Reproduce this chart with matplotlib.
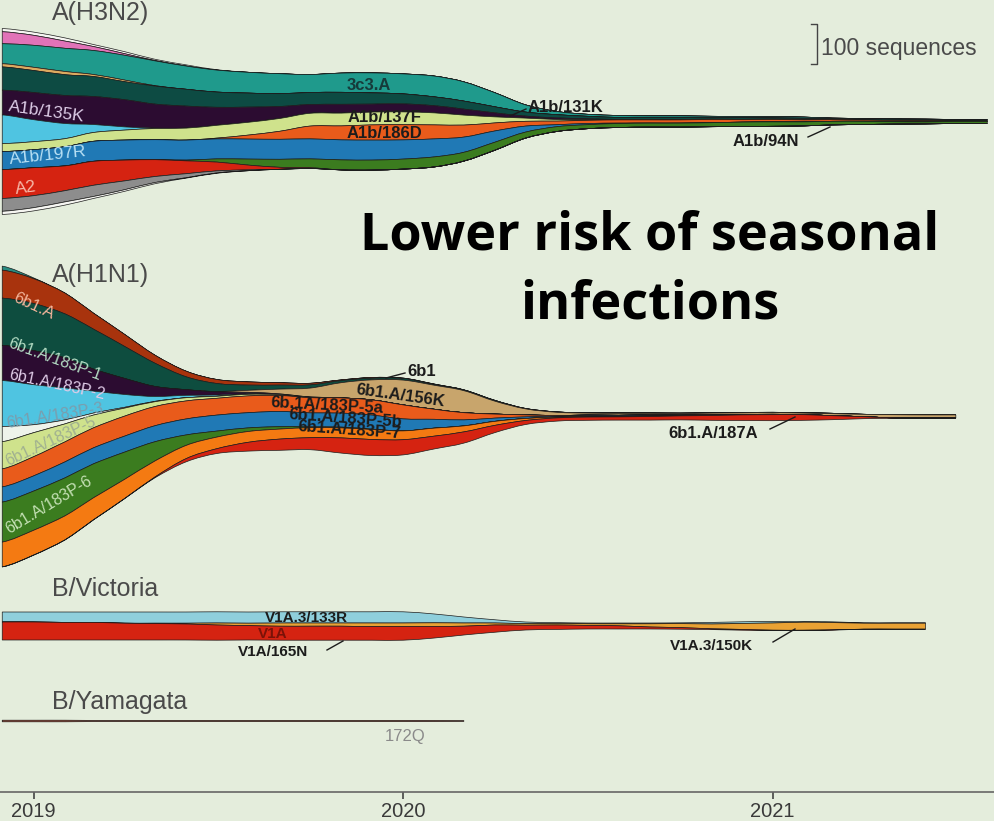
import numpy as np
import pandas as pd
import matplotlib
matplotlib.use("Agg")
import matplotlib.pyplot as plt
from matplotlib.path import Path
from matplotlib.patches import PathPatch

# sequences per clade, one value per month
h3_months = pd.date_range("2018-12-01", periods=33, freq="MS")
h3_other_top = [8, 8, 8, 5, 5, 3, 3, 1, 0, 0, 0, 0, 0, 0, 0, 0, 0, 0, 0, 0, 0, 0, 0, 0, 0, 0, 0, 0, 0, 0, 0, 0, 0]
h3_3c2 = [30, 25, 18, 10, 4, 1, 0, 0, 0, 0, 0, 0, 0, 0, 0, 0, 0, 0, 0, 0, 0, 0, 0, 0, 0, 0, 0, 0, 0, 0, 0, 0, 0]
h3_3c3a = [50, 55, 58, 60, 62, 62, 58, 55, 52, 50, 45, 48, 50, 50, 52, 48, 35, 18, 8, 5, 5, 4, 4, 3, 3, 3, 3, 1, 1, 1, 1, 1, 1]
h3_a1 = [8, 8, 8, 5, 4, 1, 0, 0, 0, 0, 0, 0, 0, 0, 0, 0, 0, 0, 0, 0, 0, 0, 0, 0, 0, 0, 0, 0, 0, 0, 0, 0, 0]
h3_131k = [58, 55, 52, 50, 45, 45, 42, 38, 35, 32, 30, 30, 28, 25, 22, 20, 15, 10, 8, 6, 5, 5, 5, 4, 4, 3, 3, 3, 3, 3, 3, 3, 3]
h3_135k = [62, 68, 70, 70, 68, 60, 55, 45, 38, 30, 22, 22, 20, 20, 18, 15, 10, 5, 4, 3, 1, 1, 1, 1, 1, 1, 1, 0, 0, 0, 0, 0, 0]
h3_135n = [72, 55, 38, 20, 8, 1, 0, 0, 0, 0, 0, 0, 0, 0, 0, 0, 0, 0, 0, 0, 0, 0, 0, 0, 0, 0, 0, 0, 0, 0, 0, 0, 0]
h3_137f = [20, 20, 20, 22, 25, 28, 30, 32, 32, 32, 32, 32, 32, 32, 30, 25, 15, 8, 4, 1, 0, 0, 0, 0, 0, 0, 0, 0, 0, 0, 0, 0, 0]
h3_186d = [0, 0, 0, 0, 0, 0, 0, 2, 10, 20, 32, 35, 38, 38, 35, 30, 20, 12, 9, 8, 8, 8, 8, 8, 6, 6, 5, 4, 3, 3, 3, 1, 1]
h3_197r = [45, 45, 48, 50, 50, 50, 50, 50, 50, 50, 50, 50, 50, 48, 45, 38, 28, 15, 5, 3, 1, 0, 0, 0, 0, 0, 0, 0, 0, 0, 0, 0, 0]
h3_94n = [0, 0, 0, 0, 0, 0, 2, 8, 15, 20, 22, 25, 25, 25, 25, 22, 20, 15, 12, 10, 10, 10, 10, 10, 11, 11, 10, 9, 8, 6, 5, 5, 5]
h3_a2 = [72, 70, 62, 60, 52, 42, 32, 22, 12, 5, 2, 0, 0, 0, 0, 0, 0, 0, 0, 0, 0, 0, 0, 0, 0, 0, 0, 0, 0, 0, 0, 0, 0]
h3_a3 = [32, 30, 28, 28, 22, 15, 10, 5, 2, 0, 0, 0, 0, 0, 0, 0, 0, 0, 0, 0, 0, 0, 0, 0, 0, 0, 0, 0, 0, 0, 0, 0, 0]
h3_other_bottom = [8, 8, 8, 5, 4, 3, 1, 1, 0, 0, 0, 0, 0, 0, 0, 0, 0, 0, 0, 0, 0, 0, 0, 0, 0, 0, 0, 0, 0, 0, 0, 0, 0]
h3_colors = ["#f6f6f2", "#e173b8", "#1f9a8c", "#dcaa60", "#0d4b43", "#2c0c31", "#4fc4e1",
             "#cfe28c", "#e95b1b", "#2079b5", "#3b7c1f", "#d52311", "#8d8d8d", "#f6f6f2"]

h1_months = pd.date_range("2018-12-01", periods=32, freq="MS")
h1_teal = [10, 2, 0, 0, 0, 0, 0, 0, 0, 0, 0, 0, 0, 0, 0, 0, 0, 0, 0, 0, 0, 0, 0, 0, 0, 0, 0, 0, 0, 0, 0, 0]
h1_6b1a = [70, 62, 52, 40, 30, 20, 14, 10, 8, 6, 4, 2, 2, 1, 1, 0, 0, 0, 0, 0, 0, 0, 0, 0, 0, 0, 0, 0, 0, 0, 0, 0]
h1_183p1 = [118, 118, 110, 100, 80, 58, 32, 20, 13, 10, 8, 5, 4, 4, 2, 2, 2, 1, 1, 1, 1, 1, 1, 1, 1, 1, 1, 1, 0, 0, 0, 0]
h1_156k = [0, 0, 0, 0, 0, 0, 0, 1, 5, 12, 22, 38, 50, 62, 60, 55, 32, 15, 8, 5, 5, 4, 4, 4, 4, 4, 4, 5, 6, 8, 8, 8]
h1_183p2 = [88, 85, 75, 55, 40, 25, 14, 8, 4, 2, 1, 0, 0, 0, 0, 0, 0, 0, 0, 0, 0, 0, 0, 0, 0, 0, 0, 0, 0, 0, 0, 0]
h1_183p3 = [115, 100, 80, 55, 32, 12, 6, 3, 1, 0, 0, 0, 0, 0, 0, 0, 0, 0, 0, 0, 0, 0, 0, 0, 0, 0, 0, 0, 0, 0, 0, 0]
h1_183p4 = [38, 20, 10, 5, 2, 1, 0, 0, 0, 0, 0, 0, 0, 0, 0, 0, 0, 0, 0, 0, 0, 0, 0, 0, 0, 0, 0, 0, 0, 0, 0, 0]
h1_183p5 = [68, 60, 45, 32, 20, 12, 8, 5, 4, 2, 1, 0, 0, 0, 0, 0, 0, 0, 0, 0, 0, 0, 0, 0, 0, 0, 0, 0, 0, 0, 0, 0]
h1_183p5a = [45, 48, 50, 50, 50, 48, 45, 42, 42, 40, 38, 38, 38, 35, 25, 18, 10, 5, 2, 2, 1, 1, 1, 1, 1, 1, 0, 0, 0, 0, 0, 0]
h1_183p5b = [38, 38, 40, 40, 40, 40, 40, 40, 38, 38, 35, 35, 35, 30, 22, 15, 8, 4, 2, 2, 2, 2, 1, 1, 0, 0, 0, 0, 0, 0, 0, 0]
h1_183p6 = [100, 98, 95, 85, 68, 48, 26, 15, 9, 6, 2, 2, 1, 0, 0, 0, 0, 0, 0, 0, 0, 0, 0, 0, 0, 0, 0, 0, 0, 0, 0, 0]
h1_183p7 = [62, 62, 60, 55, 48, 40, 33, 29, 27, 25, 25, 25, 25, 22, 20, 15, 10, 5, 2, 1, 1, 1, 0, 0, 0, 0, 0, 0, 0, 0, 0, 0]
h1_187a = [0, 0, 0, 0, 0, 2, 8, 12, 22, 28, 30, 38, 40, 38, 32, 28, 18, 10, 8, 8, 8, 9, 10, 12, 14, 15, 14, 10, 5, 1, 0, 0]
h1_colors = ["#2a8c80", "#a8330d", "#0e4d3f", "#c8a56c", "#2c0c31", "#4fc4e1", "#eef3ea",
             "#cfe28c", "#e95b1b", "#2079b5", "#3b7c1f", "#f47a12", "#d52311"]

vic_months = pd.date_range("2018-12-01", periods=31, freq="MS")
vic_133r = [25, 25, 26, 26, 28, 28, 28, 28, 28, 28, 28, 28, 28, 28, 22, 15, 8, 4, 2, 2, 2, 2, 2, 4, 4, 4, 2, 2, 1, 1, 1]
vic_150k = [0, 0, 0, 0, 0, 1, 2, 5, 6, 8, 8, 8, 9, 9, 9, 8, 5, 4, 4, 4, 5, 8, 10, 12, 15, 18, 20, 18, 15, 15, 15]
vic_v1a = [45, 45, 44, 44, 42, 41, 40, 38, 36, 35, 35, 35, 34, 34, 29, 22, 18, 12, 11, 9, 8, 5, 4, 2, 2, 1, 1, 1, 0, 0, 0]
vic_colors = ["#8fcfdc", "#e9a234", "#d52311"]

yam_months = pd.date_range("2018-12-01", periods=16, freq="MS")
yam_172q = [4, 4, 4, 3, 3, 3, 3, 3, 3, 3, 3, 3, 3, 3, 3, 2]
yam_colors = ["#a3402a"]

BG = "#e4eddc"
SEQ_PER_PX = 2.5          # vertical scale: 100 sequences -> 40 px
X_LEFT, PX_PER_YEAR = 2018.909, 369.5

plt.rcParams["font.family"] = ["Liberation Sans", "DejaVu Sans"]


def dec_year(d):
    return np.asarray(d.year + (d.dayofyear - 1) / 365.0)


def draw_stream(ax, months, bands, colors, center):
    t = dec_year(months)
    v = np.array(bands, float)
    total = v.sum(0)
    edges = np.vstack([np.zeros(len(t)), np.cumsum(v, 0)]) + (center - total / 2)
    # smooth bezier edges (catmull-rom tangents), kept in order so bands never cross
    pad = np.concatenate([edges[:, :1], edges, edges[:, -1:]], axis=1)
    slope = (pad[:, 2:] - pad[:, :-2]) / 2
    c1 = np.maximum.accumulate(edges[:, :-1] + slope[:, :-1] / 3, axis=0)
    c2 = np.maximum.accumulate(edges[:, 1:] - slope[:, 1:] / 3, axis=0)
    dt = np.diff(t)
    tx1, tx2 = t[:-1] + dt / 3, t[1:] - dt / 3
    n = len(t)
    for i, col in enumerate(colors):
        verts = [(t[0], edges[i, 0])]
        codes = [Path.MOVETO]
        for j in range(n - 1):
            verts += [(tx1[j], c1[i, j]), (tx2[j], c2[i, j]), (t[j + 1], edges[i, j + 1])]
            codes += [Path.CURVE4] * 3
        verts.append((t[-1], edges[i + 1, -1]))
        codes.append(Path.LINETO)
        for j in range(n - 2, -1, -1):
            verts += [(tx2[j], c2[i + 1, j]), (tx1[j], c1[i + 1, j]), (t[j], edges[i + 1, j])]
            codes += [Path.CURVE4] * 3
        verts.append((t[0], edges[i, 0]))
        codes.append(Path.CLOSEPOLY)
        ax.add_patch(PathPatch(Path(verts, codes), fc=col, ec="#1c1c1c", lw=0.5))


fig = plt.figure(figsize=(9.94, 8.21), dpi=100, facecolor=BG)
ax = fig.add_axes([0, 29 / 821, 1, 792 / 821])
ax.set_facecolor(BG)
ax.set_xlim(X_LEFT, X_LEFT + 994 / PX_PER_YEAR)
ax.set_ylim(792 * SEQ_PER_PX, 0)

draw_stream(ax, h3_months,
            [h3_other_top, h3_3c2, h3_3c3a, h3_a1, h3_131k, h3_135k, h3_135n, h3_137f,
             h3_186d, h3_197r, h3_94n, h3_a2, h3_a3, h3_other_bottom],
            h3_colors, 121.5 * SEQ_PER_PX)
draw_stream(ax, h1_months,
            [h1_teal, h1_6b1a, h1_183p1, h1_156k, h1_183p2, h1_183p3, h1_183p4, h1_183p5,
             h1_183p5a, h1_183p5b, h1_183p6, h1_183p7, h1_187a],
            h1_colors, 416.5 * SEQ_PER_PX)
draw_stream(ax, vic_months, [vic_133r, vic_150k, vic_v1a], vic_colors, 626 * SEQ_PER_PX)
draw_stream(ax, yam_months, [yam_172q], yam_colors, 721 * SEQ_PER_PX)

# scale bar: 100 sequences
xb = X_LEFT + 817 / PX_PER_YEAR
dxb = 6 / PX_PER_YEAR
yb = 24 * SEQ_PER_PX
ax.plot([xb - dxb, xb, xb, xb - dxb], [yb, yb, yb + 100, yb + 100], color="#444", lw=1)

for s in ["top", "left", "right"]:
    ax.spines[s].set_visible(False)
ax.spines["bottom"].set_color("#666")
ax.spines["bottom"].set_linewidth(1.2)
ax.set_yticks([])
ax.set_xticks([2019, 2020, 2021])
ax.set_xticklabels(["2019", "2020", "2021"])
ax.tick_params(axis="x", direction="out", length=5, width=1.2, color="#444",
               labelsize=14.5, labelcolor="#3a3a3a", pad=2)

# overlay in pixel coordinates for labels
ov = fig.add_axes([0, 0, 1, 1])
ov.set_xlim(0, 994)
ov.set_ylim(821, 0)
ov.axis("off")
ov.patch.set_alpha(0)


def lab(x, y, s, color="#1c1c1c", size=12, weight="bold", rot=0, ha="left"):
    ov.text(x, y, s, color=color, fontsize=size, fontweight=weight, rotation=rot,
            ha=ha, va="center", rotation_mode="anchor")


def leader(x0, y0, x1, y1):
    ov.plot([x0, x1], [y0, y1], color="#1c1c1c", lw=1)


for title, yb_ in [("A(H3N2)", 20), ("A(H1N1)", 282), ("B/Victoria", 596), ("B/Yamagata", 709)]:
    ov.text(52, yb_, title, fontsize=18, color="#4a4a4a", va="baseline", ha="left")

ov.text(821, 48, "100 sequences", fontsize=16.5, color="#4a4a4a", va="center", ha="left")

ov.text(650, 236, "Lower risk of seasonal", fontsize=37.5, fontweight="bold", color="black",
        ha="center", va="center", family=["Open Sans", "DejaVu Sans"])
ov.text(650, 305, "infections", fontsize=37.5, fontweight="bold", color="black",
        ha="center", va="center", family=["Open Sans", "DejaVu Sans"])

# A(H3N2) labels
lab(369, 86, "3c3.A", color="#163a3a", ha="center")
lab(528, 107, "A1b/131K")
leader(526, 109, 510, 116)
lab(385, 118, "A1b/137F", ha="center")
lab(384, 133, "A1b/186D", ha="center")
lab(733, 141, "A1b/94N")
leader(808, 137, 830, 127)
lab(9, 107, "A1b/135K", color="#dccbe6", size=12.5, weight="normal", rot=-8)
lab(9, 160, "A1b/197R", color="#b8e0f4", size=12.5, weight="normal", rot=6)
lab(15, 190, "A2", color="#f6b8a8", size=12.5, weight="normal", rot=8)

# A(H1N1) labels
lab(14, 297, "6b1.A", color="#f2b49a", size=12, weight="normal", rot=-25)
lab(9, 343, "6b1.A/183P-1", color="#b4dcc4", size=11.5, weight="normal", rot=-20)
lab(9, 375, "6b1.A/183P-2", color="#e0cce8", size=11.5, weight="normal", rot=-12)
lab(7, 424, "6b1.A/183P-3", color="#7a9eae", size=11.5, weight="normal", rot=9)
lab(6, 462, "6b1.A/183P-5", color="#a0b090", size=11.5, weight="normal", rot=25)
lab(7, 530, "6b1.A/183P-6", color="#c4e0b4", size=11.5, weight="normal", rot=31)
lab(407, 372, "6b1")
leader(405, 373, 386, 378)
lab(400, 396, "6b1.A/156K", ha="center", rot=-8)
lab(327, 405, "6b.1A/183P-5a", ha="center", rot=-3)
lab(345, 418, "6b1.A/183P-5b", ha="center", rot=-4)
lab(349, 430, "6b1.A/183P-7", ha="center", rot=-4)
lab(668, 434, "6b1.A/187A")
leader(770, 429, 795, 417)

# B/Victoria labels
lab(306, 618, "V1A.3/133R", size=11, ha="center")
lab(273, 634, "V1A", color="#7a1208", size=11, ha="center")
lab(238, 652, "V1A/165N", size=11)
leader(327, 650, 343, 641)
lab(670, 646, "V1A.3/150K", size=11)
leader(773, 642, 795, 629)

# B/Yamagata
lab(385, 736, "172Q", color="#8a8a8a", size=12, weight="normal")

fig.savefig("out.png", dpi=100, facecolor=BG)
